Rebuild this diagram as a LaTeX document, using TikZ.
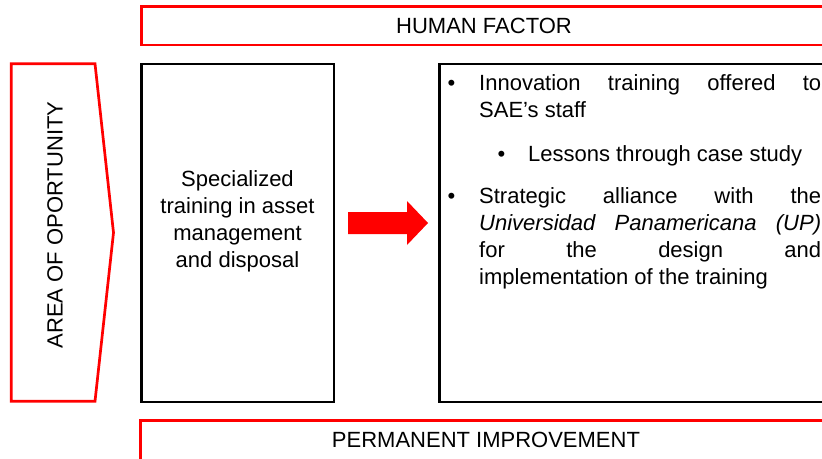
\documentclass[tikz,border=0pt]{standalone}
\usepackage{fontspec}
\setmainfont{Liberation Sans}
\begin{document}
\begin{tikzpicture}[x=1pt,y=-1pt,
  redbox/.style={draw=red,line width=2.7pt},
  blackbox/.style={draw=black,line width=2.7pt},
  txt/.style={inner sep=0pt,font=\fontsize{22}{27}\selectfont},
  bul/.style={txt,anchor=base west},
  para/.style={txt,anchor=base west,text width=342pt,align=justify}]
\useasboundingbox (0,0) rectangle (822,458);
\clip (0,0) rectangle (822,458);
% top and bottom bars
\draw[redbox] (141.3,6.5) rectangle (829,45);
\node[txt,anchor=base] (hf) at (484,33.7) {HUMAN FACTOR};
\draw[redbox] (140.7,420.7) rectangle (831,470);
\node[txt,anchor=base] (pi) at (486,447) {PERMANENT IMPROVEMENT};
% pentagon
\draw[redbox,line join=miter] (11.3,63.7) -- (95,63.7) -- (113.5,232.7) -- (95,401.3) -- (11.3,401.3) -- cycle;
\node[txt,anchor=base,rotate=90] (ao) at (62.5,225) {AREA OF OPORTUNITY};
% left box
\draw[blackbox] (141.3,64) rectangle (334,402);
\node[txt,anchor=base,align=center] (lt) at (237.5,267) {Specialized\\training in asset\\management\\and disposal};
% arrow
\fill[red] (348,212) -- (407,212) -- (407,201) -- (428,223) -- (407,245) -- (407,234) -- (348,234) -- cycle;
% right box
\draw[blackbox] (439.5,64) rectangle (840,402);
\node[bul] (b1) at (447.5,90) {\char"2022};
\node[para] (t1) at (479,90) {Innovation training offered to\linebreak SAE’s staff};
\node[bul] (b2) at (497.5,161) {\char"2022};
\node[bul] (t2) at (528,161) {Lessons through case study};
\node[bul] (b3) at (447.5,203) {\char"2022};
\node[para] (t3) at (479,203) {Strategic alliance with the\linebreak \textit{Universidad Panamericana (UP)}\linebreak for the design and\linebreak implementation of the training};
\end{tikzpicture}
\end{document}
